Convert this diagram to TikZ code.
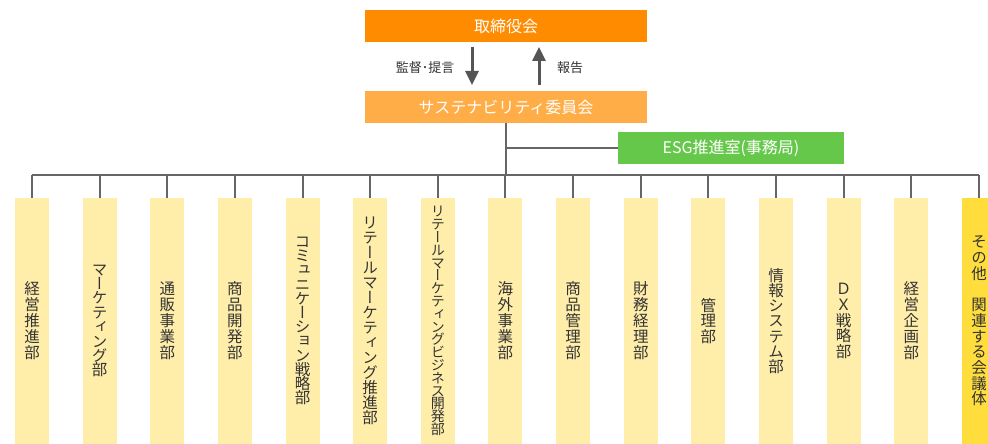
\documentclass[tikz,border=0pt]{standalone}
\usepackage{fontspec}
\setmainfont{Noto Sans CJK JP}
\newfontfamily\jp{Noto Sans CJK JP}
\newfontfamily\vjp[RawFeature=+vert]{Noto Sans CJK JP}
\usetikzlibrary{arrows.meta}
\definecolor{boardor}{RGB}{255,140,0}
\definecolor{commor}{RGB}{255,173,71}
\definecolor{esggr}{RGB}{102,200,75}
\definecolor{colyel}{RGB}{255,237,170}
\definecolor{lastyel}{RGB}{255,221,60}
\definecolor{linegr}{RGB}{102,102,102}
\definecolor{arrgr}{RGB}{85,85,85}
\definecolor{txtgr}{RGB}{51,51,51}
\lineskiplimit=-30pt
\tikzset{
  topbox/.style={minimum width=282pt, minimum height=32pt, inner sep=0pt, text=white, font=\jp\fontsize{16}{18}\selectfont},
  colbox/.style={fill=colyel, minimum width=34pt, minimum height=246pt, inner sep=0pt, align=center, text=txtgr},
  vtext/.style={font=\vjp\fontsize{15.5}{#1}\selectfont},
  vtextsmall/.style={font=\vjp\fontsize{14}{#1}\selectfont},
  conn/.style={draw=linegr, line width=2pt},
  flow/.style={draw=arrgr, line width=3pt, -{Triangle[length=14pt,width=13pt]}},
  lbl/.style={text=txtgr, font=\jp\fontsize{13}{15}\selectfont, inner sep=0pt}
}
\begin{document}
\begin{tikzpicture}[x=1pt,y=-1pt]
\useasboundingbox (0,0) rectangle (988,444);
\clip (0,0) rectangle (988,444);
\node[topbox, fill=boardor] (board) at (506,26) {取締役会};
\node[topbox, fill=commor] (comm) at (506,107) {サステナビリティ委員会};
\coordinate (dtop) at (472,47);
\coordinate (dbot) at (472,85);
\coordinate (utop) at (539,47);
\coordinate (ubot) at (539,85);
\draw[flow] (dtop) -- (dbot);
\draw[flow] (ubot) -- (utop);
\node[lbl] (lsup) at (425,68) {監督･提言};
\node[lbl] (lrep) at (570,68) {報告};
\node[fill=esggr, minimum width=226pt, minimum height=32pt, inner sep=0pt, text=white, font=\jp\fontsize{16}{18}\selectfont] (esg) at (731,148) {ESG推進室(事務局)};
% columns
\node[colbox, vtext=16] (c1) at (32,321) {経\\営\\推\\進\\部};
\node[colbox, vtext=14.4] (c2) at (99.64,321) {マ\\ー\\ケ\\テ\\ィ\\ン\\グ\\部};
\node[colbox, vtext=16] (c3) at (167.28,321) {通\\販\\事\\業\\部};
\node[colbox, vtext=16] (c4) at (234.92,321) {商\\品\\開\\発\\部};
\node[colbox, vtext=14.2] (c5) at (302.56,321) {コ\\ミ\\ュ\\ニ\\ケ\\ー\\シ\\ョ\\ン\\戦\\略\\部};
\node[colbox, vtext=15] (c6) at (370.2,321) {リ\\テ\\ー\\ル\\マ\\ー\\ケ\\テ\\ィ\\ン\\グ\\推\\進\\部};
\node[colbox, vtextsmall=12.8] (c7) at (437.84,321) {リ\\テ\\ー\\ル\\マ\\ー\\ケ\\テ\\ィ\\ン\\グ\\ビ\\ジ\\ネ\\ス\\開\\発\\部};
\node[colbox, vtext=16] (c8) at (505.48,321) {海\\外\\事\\業\\部};
\node[colbox, vtext=16] (c9) at (573.12,321) {商\\品\\管\\理\\部};
\node[colbox, vtext=16] (c10) at (640.76,321) {財\\務\\経\\理\\部};
\node[colbox, vtext=15.5] (c11) at (708.4,321) {管\\理\\部};
\node[colbox, vtext=15.2] (c12) at (776.04,321) {情\\報\\シ\\ス\\テ\\ム\\部};
\node[colbox, vtext=15.75] (c13) at (843.68,321) {Ｄ\\Ｘ\\戦\\略\\部};
\node[colbox, vtext=16] (c14) at (911.32,321) {経\\営\\企\\画\\部};
\node[colbox, fill=lastyel, vtext=15.7] (c15) at (979,321) {そ\\の\\他\\　\\関\\連\\す\\る\\会\\議\\体};
% connectors
\coordinate (busL) at (32,175);
\coordinate (busR) at (979,175);
\coordinate (esgj) at (505.48,148);
\draw[conn] (busL) -- (busR);
\draw[conn] (comm.south) -- (comm.south |- busL);
\draw[conn] (esgj) -- (esg.west);
\foreach \i in {1,...,15}{
  \draw[conn] (c\i.north) -- (c\i.north |- busL);
}
\end{tikzpicture}
\end{document}
